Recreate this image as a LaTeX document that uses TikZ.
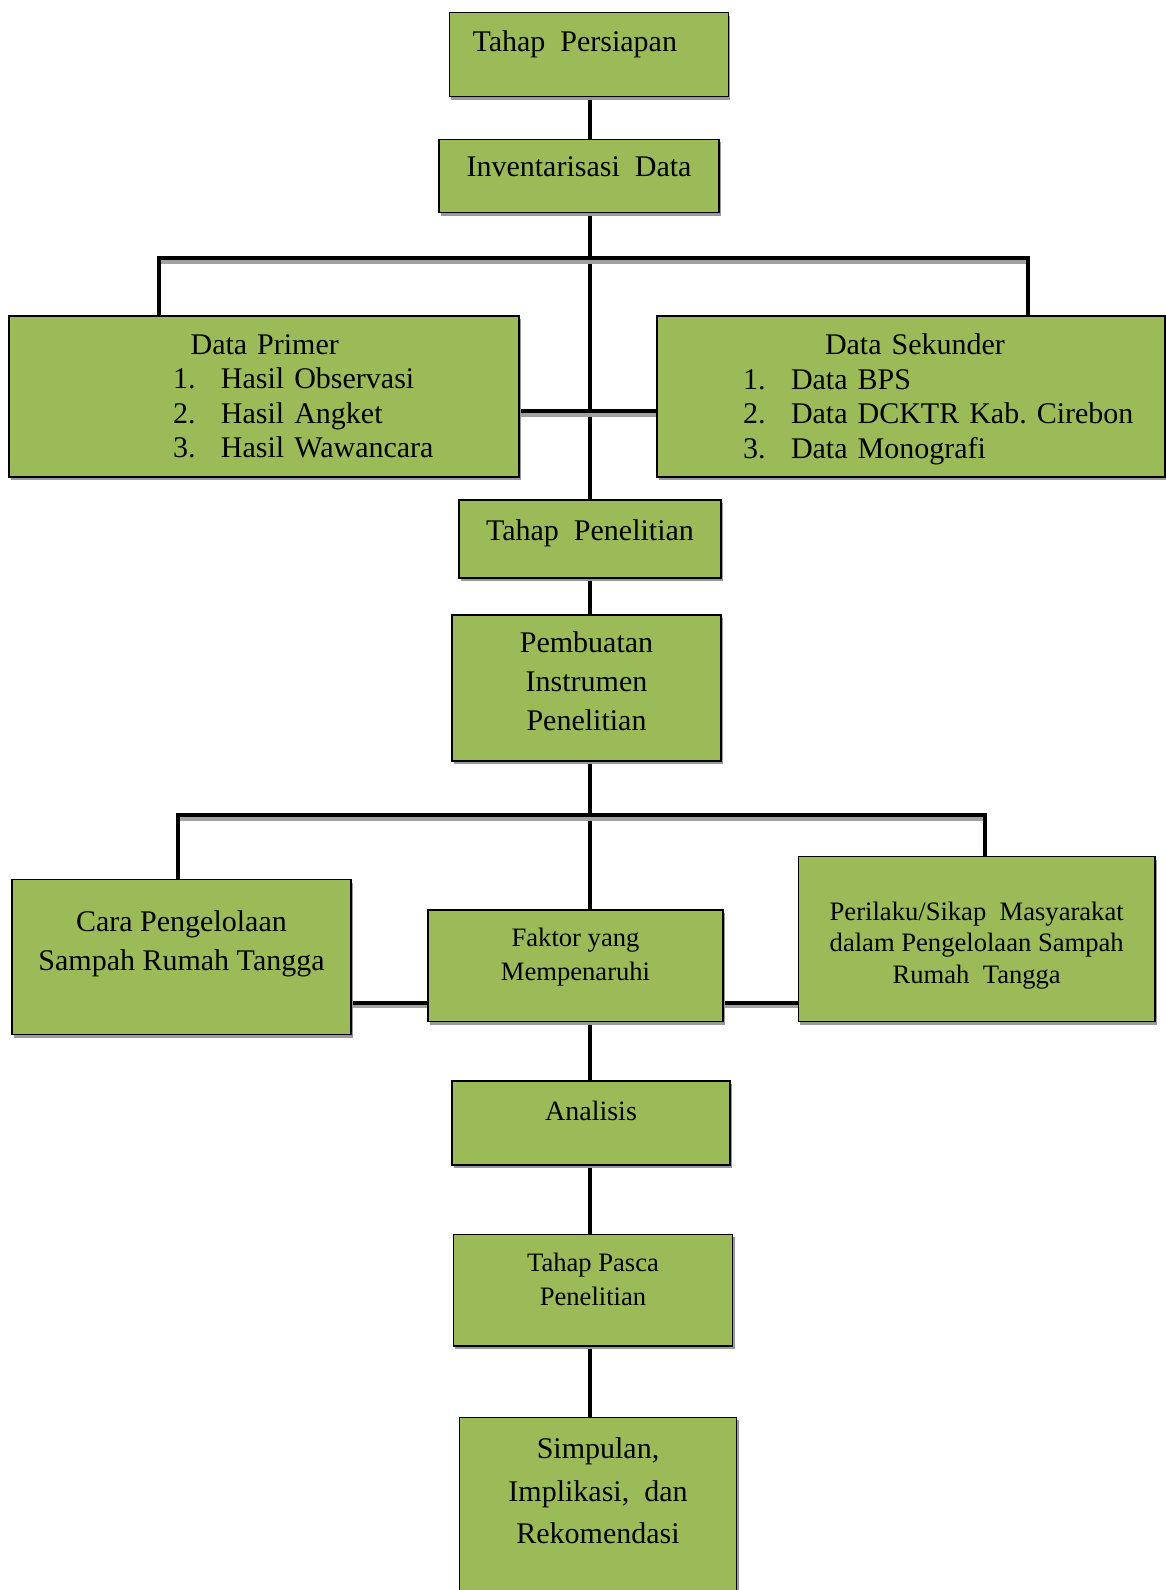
\documentclass[tikz,border=0pt]{standalone}
\usepackage{fontspec}
\setmainfont{Liberation Serif}
\usetikzlibrary{shadows,backgrounds}
\definecolor{hijau}{HTML}{9BBB59}
\newcommand{\nomor}[1]{\makebox[24pt][l]{#1}}
\newcommand{\angkat}[1]{\rule[-#1]{0pt}{#1}}
\newcommand{\turun}[1]{\rule{0pt}{#1}}

\begin{document}
\begin{tikzpicture}[x=0.5pt,y=-0.5pt,
		kotak/.style={draw=black,line width=0.75pt,fill=hijau,inner sep=0pt,align=center,
			drop shadow={shadow xshift=1pt,shadow yshift=-1.5pt,fill=black!40,opacity=1}},
		garis/.style={line width=2pt,preaction={draw=black!37,line width=2pt,transform canvas={yshift=-1.75pt}}},
		besar/.style={font=\fontsize{15}{19.5}\selectfont},
		kecil/.style={font=\fontsize{13.3}{17}\selectfont}]
		\useasboundingbox (0,0) rectangle (1166,1590);
		\clip (0,0) rectangle (1166,1590);

		\node[kotak,besar,minimum width=139.5pt,minimum height=42pt] (persiapan) at (588.8,54.7) {Tahap\ \ Persiapan\hspace*{14pt}\angkat{13.3pt}};
		\node[kotak,besar,minimum width=140pt,minimum height=36.7pt] (inventaris) at (579,176) {Inventarisasi\ \ Data\angkat{9pt}};
		\node[kotak,font=\fontsize{15}{17.25}\selectfont,text width=255pt,align=left,minimum height=80.5pt] (primer) at (264,396.5) {\hspace*{90.8pt}Data Primer\\
			\hspace*{82pt}\nomor{1.}Hasil Observasi\\
			\hspace*{82pt}\nomor{2.}Hasil Angket\\
			\hspace*{82pt}\nomor{3.}Hasil Wawancara};
		\node[kotak,font=\fontsize{15}{17.25}\selectfont,text width=254pt,align=left,minimum height=80.5pt] (sekunder) at (911,396.5) {\hspace*{84pt}\turun{13.4pt}Data Sekunder\\
			\hspace*{43pt}\nomor{1.}Data BPS\\
			\hspace*{43pt}\nomor{2.}Data DCKTR Kab.\ Cirebon\\
			\hspace*{43pt}\nomor{3.}Data Monografi};
		\node[kotak,besar,minimum width=131pt,minimum height=39pt] (penelitian) at (590,539) {Tahap\ \ Penelitian\angkat{9.3pt}};
		\node[kotak,besar,minimum width=134.5pt,minimum height=73pt] (instrumen) at (586.5,688) {Pembuatan\\ Instrumen\\ Penelitian\angkat{7pt}};
		\node[kotak,besar,minimum width=169.5pt,minimum height=77.5pt] (cara) at (181.5,957.2) {Cara Pengelolaan\\ Sampah Rumah Tangga\angkat{16.5pt}};
		\node[kotak,kecil,minimum width=147.5pt,minimum height=55.9pt] (faktor) at (575.5,965.8) {Faktor yang\\ Mempenaruhi\angkat{11.9pt}};
		\node[kotak,font=\fontsize{13.3}{15.75}\selectfont,minimum width=178.3pt,minimum height=82.5pt] (perilaku) at (976.7,939.2) {\turun{15.5pt}Perilaku/Sikap\ \ Masyarakat\\ dalam Pengelolaan Sampah\\ Rumah\ \ Tangga};
		\node[kotak,font=\fontsize{14}{17}\selectfont,minimum width=139pt,minimum height=42pt] (analisis) at (591,1123) {Analisis\angkat{12pt}};
		\node[kotak,kecil,minimum width=139.7pt,minimum height=55.8pt] (pasca) at (593,1290.2) {Tahap Pasca\\ Penelitian\angkat{11pt}};
		\node[kotak,font=\fontsize{15}{21.25}\selectfont,minimum width=138.7pt,minimum height=111.35pt] (simpulan) at (598,1528.7) {Simpulan,\\ Implikasi,\ \ dan\\ Rekomendasi\angkat{38pt}};

		\coordinate (poros) at (590,0);
		\coordinate (kiri1) at (159,258.3);
		\coordinate (kanan1) at (1028,258.3);
		\coordinate (hubung1) at (590,411);
		\coordinate (kiri2) at (178.4,815.2);
		\coordinate (kanan2) at (984.5,815.2);
		\coordinate (hubung2) at (590,1002.7);

		\begin{scope}[on background layer]
			\draw[garis] (poros |- persiapan.south) -- (poros |- inventaris.north);
			\draw[garis] (poros |- inventaris.south) -- (poros |- penelitian.north);
			\draw[garis] (kiri1 |- primer.north) -- (kiri1) -- (kanan1) -- (kanan1 |- sekunder.north);
			\draw[garis] (primer.east |- hubung1) -- (sekunder.west |- hubung1);
			\draw[garis] (poros |- penelitian.south) -- (poros |- instrumen.north);
			\draw[garis] (poros |- instrumen.south) -- (poros |- faktor.north);
			\draw[garis] (kiri2 |- cara.north) -- (kiri2) -- (kanan2) -- (kanan2 |- perilaku.north);
			\draw[garis] (cara.east |- hubung2) -- (faktor.west |- hubung2);
			\draw[garis] (faktor.east |- hubung2) -- (perilaku.west |- hubung2);
			\draw[garis] (poros |- faktor.south) -- (poros |- analisis.north);
			\draw[garis] (poros |- analisis.south) -- (poros |- pasca.north);
			\draw[garis] (poros |- pasca.south) -- (poros |- simpulan.north);
		\end{scope}
	\end{tikzpicture}
\end{document}
